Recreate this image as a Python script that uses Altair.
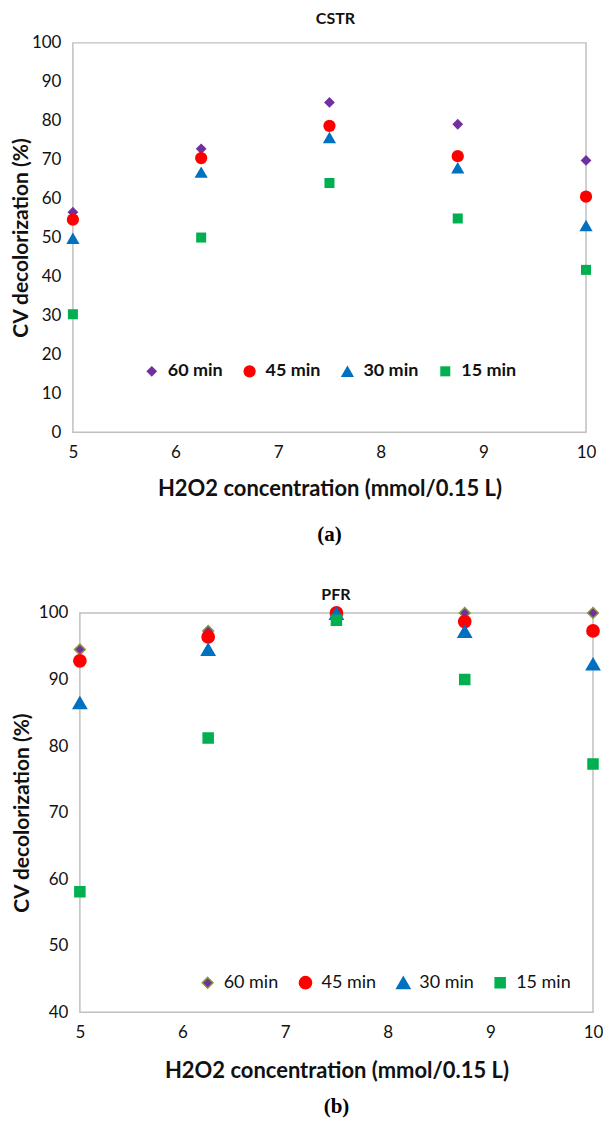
import altair as alt
import pandas as pd

# ---------------- data ----------------
X_VALUES = [5, 6.25, 7.5, 8.75, 10]
SERIES = ["60 min", "45 min", "30 min", "15 min"]

CSTR_60 = [56.5, 72.8, 84.7, 79.1, 69.8]
CSTR_45 = [54.6, 70.4, 78.7, 70.9, 60.5]
CSTR_30 = [49.8, 66.8, 75.7, 67.9, 53.1]
CSTR_15 = [30.3, 50.0, 64.0, 54.9, 41.7]

PFR_60 = [94.5, 97.3, 100.0, 100.0, 100.0]
PFR_45 = [92.8, 96.4, 100.0, 98.7, 97.3]
PFR_30 = [86.5, 94.5, 99.9, 97.2, 92.3]
PFR_15 = [58.1, 81.2, 98.9, 90.0, 77.3]

X_TICKS = [5, 6, 7, 8, 9, 10]
CSTR_Y_TICKS = [0, 10, 20, 30, 40, 50, 60, 70, 80, 90, 100]
PFR_Y_TICKS = [40, 50, 60, 70, 80, 90, 100]

COLORS = ["#7030A0", "#FF0000", "#0070C0", "#00B050"]
PFR_STROKES = ["#8A9A3C", "#FF0000", "#0070C0", "#00B050"]
# diamond, circle, triangle, square (unit paths scaled by Vega)
SHAPES = ["M0,-0.88L0.88,0L0,0.88L-0.88,0Z", "circle",
          "M0,-0.94L1.08,0.93L-1.08,0.93Z", "M-0.82,-0.82L0.82,-0.82L0.82,0.82L-0.82,0.82Z"]

X_TITLE = "H2O2 concentration (mmol/0.15 L)"
Y_TITLE = "CV decolorization (%)"
FONT = "Lato"
PW = 514


def long_df(values_by_series):
    rows = []
    for s, vals in zip(SERIES, values_by_series):
        for x, v in zip(X_VALUES, vals):
            rows.append({"x": x, "y": v, "series": s})
    return pd.DataFrame(rows)


def panel(values, title, ydom, yticks, height, xoff, title_pad, xtitle_pad,
          legend_x, legend_y, legend_weight, strokes, tag, tag_y, title_offset, title_dx):
    df = long_df(values)
    xscale = alt.Scale(domain=[5, 10], range=[xoff, xoff + PW], nice=False, zero=False)
    yscale = alt.Scale(domain=ydom, nice=False, zero=False)
    xaxis = alt.Axis(values=X_TICKS, title=X_TITLE, grid=False, domain=False, ticks=False,
                     labelFont=FONT, labelFontSize=17, labelColor="#111", labelPadding=12,
                     titleFont=FONT, titleFontSize=22, titleFontWeight="bold",
                     titleColor="#111", titlePadding=xtitle_pad, labelFlush=False)
    yaxis = alt.Axis(values=yticks, title=Y_TITLE, grid=False, domain=False, ticks=False,
                     labelFont=FONT, labelFontSize=17, labelColor="#111", labelPadding=12,
                     titleFont=FONT, titleFontSize=21, titleFontWeight="bold",
                     titleColor="#111", titlePadding=title_pad, offset=-xoff)
    X = alt.X("x:Q", scale=xscale, axis=xaxis)
    Y = alt.Y("y:Q", scale=yscale, axis=yaxis)

    box_df = pd.DataFrame({"x": [5], "xe": [10], "y": [ydom[0]], "ye": [ydom[1]]})
    box = alt.Chart(box_df).mark_rect(fill="transparent", stroke="#C0C0C0",
                                      strokeWidth=1.5).encode(
        x=X, x2="xe:Q", y=Y, y2="ye:Q")

    leg = alt.Legend(orient="none", legendX=legend_x, legendY=legend_y,
                     direction="horizontal", labelFont=FONT, labelFontSize=18,
                     labelFontWeight=legend_weight, labelColor="#111",
                     labelOffset=7, columnPadding=17, padding=0, symbolSize=150,
                     symbolStrokeWidth=1.5 if strokes is not None else 0)
    enc = dict(
        x=X, y=Y,
        color=alt.Color("series:N", title=None,
                        scale=alt.Scale(domain=SERIES, range=COLORS), legend=leg),
        shape=alt.Shape("series:N", title=None,
                        scale=alt.Scale(domain=SERIES, range=SHAPES), legend=leg),
    )
    if strokes is not None:
        enc["stroke"] = alt.Stroke("series:N", title=None,
                                   scale=alt.Scale(domain=SERIES, range=strokes), legend=leg)
        pts = alt.Chart(df).mark_point(filled=True, opacity=1, size=150,
                                       strokeWidth=1.5).encode(**enc)
    else:
        pts = alt.Chart(df).mark_point(filled=True, opacity=1, size=150,
                                       strokeWidth=0).encode(**enc)

    tag_df = pd.DataFrame({"t": [tag]})
    tagm = alt.Chart(tag_df).mark_text(font="Liberation Serif", fontWeight="bold",
                                       fontSize=21, color="#000").encode(
        x=alt.value(xoff + PW / 2), y=alt.value(tag_y), text="t:N")

    return alt.layer(box, pts, tagm).properties(
        width=PW + xoff, height=height,
        title=alt.Title(title, font=FONT, fontSize=16, fontWeight="bold",
                        color="#111", anchor="middle", offset=title_offset, dx=title_dx),
    )


top = panel([CSTR_60, CSTR_45, CSTR_30, CSTR_15], "CSTR", [0, 100], CSTR_Y_TICKS,
            390, 0, 0, 18, 70, 320, "bold", None, "(a)", 493, 7, 6)
bottom = panel([PFR_60, PFR_45, PFR_30, PFR_15], "PFR", [40, 100], PFR_Y_TICKS,
               400, 7, 6, 20, 126, 361, "normal", PFR_STROKES, "(b)", 495, 1, 3)

chart = alt.vconcat(top, bottom, spacing=41).resolve_scale(
    color="independent", shape="independent", stroke="independent",
    x="independent", y="independent"
).resolve_legend(color="independent", shape="independent",
                 stroke="independent").properties(
    padding={"left": 2, "top": 2, "right": 0, "bottom": 0}
).configure_view(strokeWidth=0)

chart.save("out.html", embed_options={"renderer": "svg", "actions": False})
